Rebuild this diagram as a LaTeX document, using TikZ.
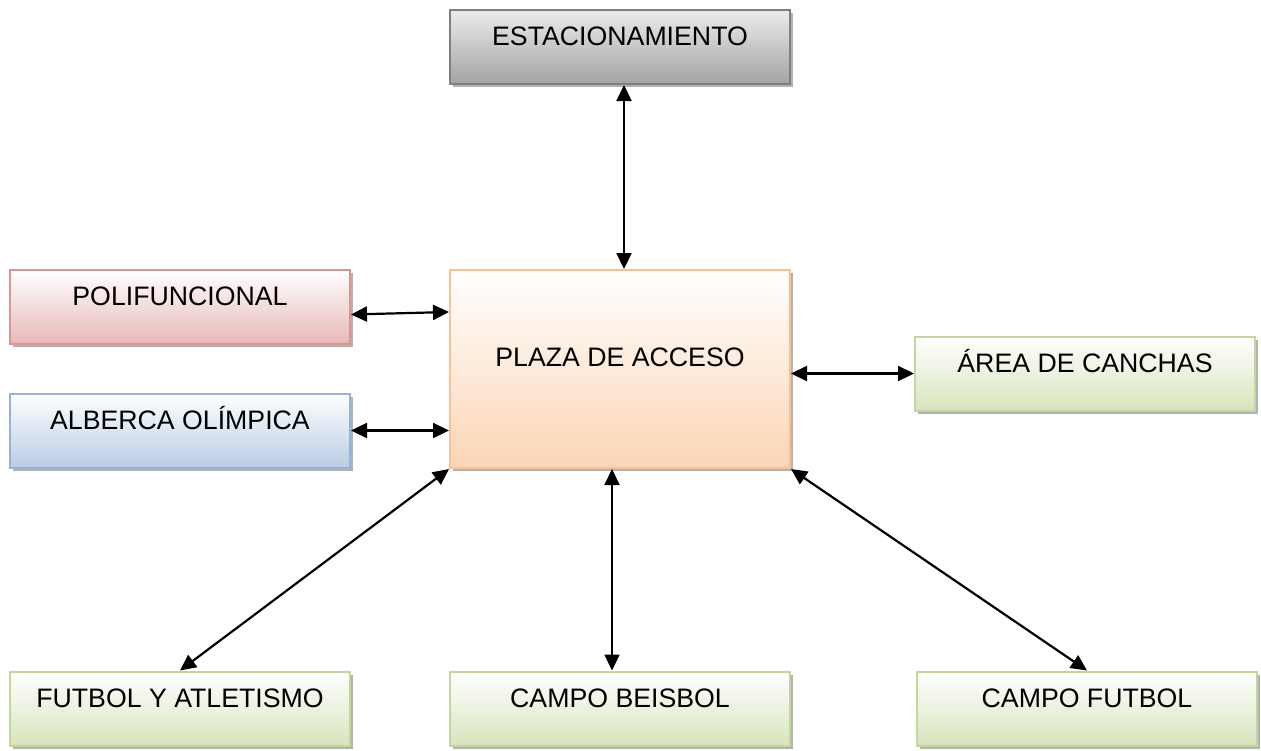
\documentclass[tikz,border=0pt]{standalone}
\usepackage{fontspec}
\setmainfont{Liberation Sans}
\usetikzlibrary{arrows.meta,shadows}
\definecolor{grayLine}{HTML}{7F7F7F}
\definecolor{grayTop}{HTML}{EBEBEB}
\definecolor{grayBot}{HTML}{A3A3A3}
\definecolor{redLine}{HTML}{D99694}
\definecolor{redBot}{HTML}{E6B9B8}
\definecolor{blueLine}{HTML}{95B3D7}
\definecolor{blueBot}{HTML}{B9CDE5}
\definecolor{orangeLine}{HTML}{FAC08F}
\definecolor{orangeBot}{HTML}{FBD5B5}
\definecolor{greenLine}{HTML}{C3D69B}
\definecolor{greenBot}{HTML}{D7E4BD}

\begin{document}
\begin{tikzpicture}[x=1pt,y=-1pt,
  box/.style={draw,line width=2pt,minimum width=340pt,inner xsep=0pt,inner ysep=16.5pt,
    text height=19pt,text depth=22pt,font=\fontsize{26.7}{32}\selectfont,
    drop shadow={shadow xshift=3pt,shadow yshift=-3pt,fill=black,opacity=.3}},
  greenbox/.style={box,draw=greenLine,top color=white,bottom color=greenBot},
  link/.style={{Triangle[length=16pt,width=15pt]}-{Triangle[length=16pt,width=15pt]},line width=2.2pt}]
  \useasboundingbox (0,0) rectangle (1261,750);
  % boxes
  \node[box,draw=grayLine,top color=grayTop,bottom color=grayBot] (est) at (620,47) {ESTACIONAMIENTO};
  \node[box,draw=redLine,top color=white,bottom color=redBot] (poli) at (180,306.5) {POLIFUNCIONAL};
  \node[box,draw=blueLine,top color=white,bottom color=blueBot] (alb) at (180,430.5) {ALBERCA OLÍMPICA};
  \node[box,draw=orangeLine,top color=white,bottom color=orangeBot,text height=79.5pt,text depth=85.5pt] (plaza) at (620,369) {PLAZA DE ACCESO};
  \node[greenbox] (area) at (1085,373.5) {ÁREA DE CANCHAS};
  \node[greenbox] (fya) at (180,708.5) {FUTBOL Y ATLETISMO};
  \node[greenbox] (beis) at (620,708.5) {CAMPO BEISBOL};
  \node[greenbox] (cfut) at (1087,708.5) {CAMPO FUTBOL};
  % connectors
  \draw[link] ([xshift=4pt]est.south) -- ([xshift=4pt]plaza.north);
  \draw[link] ([yshift=-8pt]poli.east) -- ([yshift=57pt]plaza.west);
  \draw[link] (alb.east) -- (plaza.west |- alb.east);
  \draw[link] (plaza.east |- area.west) -- (area.west);
  \draw[link] (plaza.south west) -- (fya.north);
  \draw[link] ([xshift=-8pt]plaza.south) -- ([xshift=-8pt]beis.north);
  \draw[link] (plaza.south east) -- (cfut.north);
\end{tikzpicture}
\end{document}
